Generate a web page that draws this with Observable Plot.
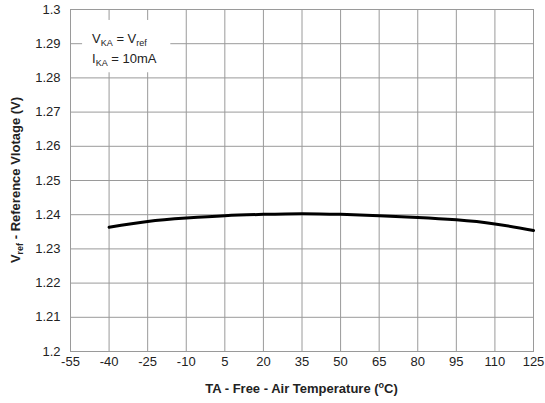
<!DOCTYPE html>
<html><head><meta charset="utf-8">
<script src="https://cdn.jsdelivr.net/npm/d3@7"></script>
<script src="https://cdn.jsdelivr.net/npm/@observablehq/plot@0.6"></script>
<style>
body{margin:0;background:#fff;}
svg{font-family:"Liberation Sans",Arial,sans-serif;}
</style></head>
<body><div id="chart"></div>
<script>
const temps = [-40, -25, -10, 5, 20, 35, 50, 65, 80, 95, 110, 125];
const vref  = [1.2363, 1.2380, 1.2390, 1.2397, 1.2401, 1.2403, 1.2401, 1.2397, 1.2392, 1.2385, 1.2373, 1.2354];
const xTicks = [-55, -40, -25, -10, 5, 20, 35, 50, 65, 80, 95, 110, 125];
const yTicks = [1.2, 1.21, 1.22, 1.23, 1.24, 1.25, 1.26, 1.27, 1.28, 1.29, 1.3];
const data = temps.map((t, i) => ({t, v: vref[i]}));

const plot = Plot.plot({
  width: 545, height: 403,
  marginLeft: 70, marginRight: 12, marginTop: 9, marginBottom: 52,
  style: {fontFamily: '"Liberation Sans", Arial, sans-serif', fontSize: "13px", color: "#222", background: "#fff"},
  x: {domain: [-55, 125], label: null},
  y: {domain: [1.2, 1.3], label: null},
  marks: [
    Plot.gridX(xTicks, {stroke: "#9a9a9a", strokeOpacity: 1}),
    Plot.gridY(yTicks, {stroke: "#9a9a9a", strokeOpacity: 1}),
    Plot.frame({stroke: "#9a9a9a"}),
    Plot.axisX(xTicks, {tickSize: 0, tickPadding: 5, fontSize: 13, label: null, tickFormat: d => String(d)}),
    Plot.axisY(yTicks, {tickSize: 0, tickPadding: 10, fontSize: 13, label: null, tickFormat: d => String(+d.toFixed(2))}),
    Plot.line(data, {x: "t", y: "v", stroke: "#000", strokeWidth: 3, curve: "natural"})
  ]
});
document.getElementById("chart").appendChild(plot);

const svg = d3.select(plot);
const xs = plot.scale("x"), ys = plot.scale("y");
const x0 = xs.range[0], x1 = xs.range[1];
const yTop = ys.apply(1.3), yBot = ys.apply(1.2);

// annotation box
const bx = xs.apply(-50.3), bx2 = xs.apply(-16);
const by = ys.apply(1.2968), by2 = ys.apply(1.2815);
svg.append("rect").attr("x", bx).attr("y", by).attr("width", bx2 - bx).attr("height", by2 - by).attr("fill", "#fff");
const ann = svg.append("g").attr("font-size", 13).attr("fill", "#222").attr("text-anchor", "start");
const t1 = ann.append("text").attr("x", bx + 10).attr("y", by + 23);
t1.append("tspan").text("V");
t1.append("tspan").attr("font-size", 9).attr("dy", 3).text("KA");
t1.append("tspan").attr("dy", -3).text(" = V");
t1.append("tspan").attr("font-size", 9).attr("dy", 3).text("ref");
const t2 = ann.append("text").attr("x", bx + 10).attr("y", by + 43);
t2.append("tspan").text("I");
t2.append("tspan").attr("font-size", 9).attr("dy", 3).text("KA");
t2.append("tspan").attr("dy", -3).text(" = 10mA");

// x title
const xt = svg.append("text").attr("x", (x0 + x1) / 2).attr("y", 393)
  .attr("text-anchor", "middle").attr("font-size", 13).attr("font-weight", "bold").attr("fill", "#222");
xt.append("tspan").text("TA - Free - Air Temperature (");
xt.append("tspan").attr("font-size", 9).attr("dy", -5).text("o");
xt.append("tspan").attr("dy", 5).text("C)");

// y title
const cy = (yTop + yBot) / 2;
const yt = svg.append("text").attr("transform", `translate(20,${cy}) rotate(-90)`)
  .attr("text-anchor", "middle").attr("font-size", 13).attr("font-weight", "bold").attr("fill", "#222");
yt.append("tspan").text("V");
yt.append("tspan").attr("font-size", 9).attr("dy", 3).text("ref");
yt.append("tspan").attr("dy", -3).text(" - Reference Vlotage (V)");
</script></body></html>
